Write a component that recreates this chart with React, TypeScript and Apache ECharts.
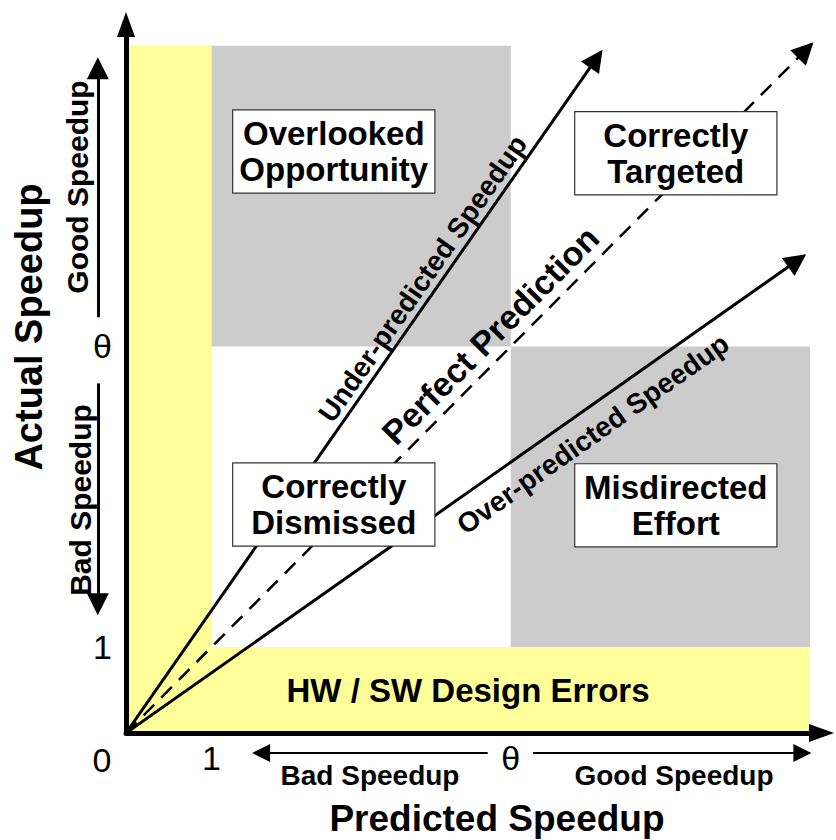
import React, { useEffect, useRef } from 'react';
import * as echarts from 'echarts';

const FONT = '"Liberation Sans", Arial, Helvetica, sans-serif';

// thresholds and axis extents (data units)
const THETA = 4.5;
const X_MAX = 8.134;
const Y_MAX = 8.248;
const xTickValues = [1, THETA];
const yTickValues = [1, THETA];

// shaded regions: [x0, y0] - [x1, y1]
const regionX0 = [0, 1, 1, THETA];
const regionX1 = [1, 8, THETA, 8];
const regionY0 = [0, 0, THETA, 1];
const regionY1 = [8, 1, 8, THETA];
const regionColor = ['#FFFF99', '#FFFF99', '#CCCCCC', '#CCCCCC'];

// diagonal prediction lines from origin
const diagNames = ['Under-predicted Speedup', 'Perfect Prediction', 'Over-predicted Speedup'];
const diagEndX = [5.5, 7.95, 7.85];
const diagEndY = [7.85, 7.95, 5.5];
const diagDashed = [false, true, false];
const diagLabelX = [3.47, 4.26, 5.46];
const diagLabelY = [5.29, 4.63, 3.48];
const diagLabelSize = [28, 34, 28];

// quadrant boxes
const quadrantNames = ['Overlooked\nOpportunity', 'Correctly\nTargeted', 'Correctly\nDismissed', 'Misdirected\nEffort'];
const quadrantX = [2.43, 6.43, 2.43, 6.43];
const quadrantY = [6.77, 6.75, 2.66, 2.65];
const errorsName = 'HW / SW Design Errors';
const errorsX = 4.0;
const errorsY = 0.5;

// guide arrows beside axes
const yGuideStart = [[-0.33, 4.84], [-0.33, 4.07]];
const yGuideEnd = [[-0.33, 7.74], [-0.33, 1.5]];
const xGuideStart = [[4.23, -0.233], [4.76, -0.233]];
const xGuideEnd = [[1.58, -0.233], [7.91, -0.233]];

const tickLabel = (v: number) => (v === THETA ? 'θ' : String(v));

export default function App() {
  const ref = useRef<HTMLDivElement>(null);
  useEffect(() => {
    document.body.style.margin = '0';
    const chart = echarts.init(ref.current!, null, { renderer: 'svg' });
    const axisCommon = {
      type: 'value',
      min: 0,
      z: 10,
      axisTick: { show: false },
      splitLine: { show: false },
      axisLine: {
        show: true,
        symbol: ['none', 'triangle'],
        symbolSize: [18, 25],
        lineStyle: { color: '#000', width: 5 },
      },
    };
    const textBase = { fontFamily: FONT, fill: '#000', align: 'center', verticalAlign: 'middle' };
    chart.setOption({
      animation: false,
      grid: { left: 126, top: 24.5, width: 695.5, height: 708.5, containLabel: false },
      xAxis: {
        ...axisCommon,
        max: X_MAX,
        axisLabel: {
          customValues: xTickValues,
          formatter: tickLabel,
          fontSize: 34,
          color: '#000',
          fontFamily: FONT,
          margin: 8,
        },
      },
      yAxis: {
        ...axisCommon,
        max: Y_MAX,
        axisLabel: {
          customValues: yTickValues,
          formatter: tickLabel,
          fontSize: 34,
          color: '#000',
          fontFamily: FONT,
          margin: 14,
        },
      },
      series: [
        {
          type: 'custom',
          name: 'regions',
          z: 1,
          silent: true,
          encode: { x: [0, 2], y: [1, 3] },
          data: regionX0.map((x, i) => [x, regionY0[i], regionX1[i], regionY1[i]]),
          renderItem: (params: any, api: any) => {
            const p0 = api.coord([api.value(0), api.value(1)]);
            const p1 = api.coord([api.value(2), api.value(3)]);
            return {
              type: 'rect',
              shape: { x: p0[0], y: p1[1], width: p1[0] - p0[0], height: p0[1] - p1[1] },
              style: { fill: regionColor[params.dataIndex] },
            };
          },
        },
        {
          type: 'lines',
          name: 'predictions',
          coordinateSystem: 'cartesian2d',
          z: 3,
          silent: true,
          symbol: ['none', 'triangle'],
          symbolSize: [16, 22],
          data: diagNames.map((n, i) => ({
            name: n,
            coords: [[0, 0], [diagEndX[i], diagEndY[i]]],
            lineStyle: {
              color: '#000',
              width: diagDashed[i] ? 2.5 : 3,
              type: diagDashed[i] ? [15, 10] : 'solid',
              opacity: 1,
            },
          })),
        },
        {
          type: 'lines',
          name: 'yGuides',
          coordinateSystem: 'cartesian2d',
          clip: false,
          z: 3,
          silent: true,
          symbol: ['none', 'triangle'],
          symbolSize: [14, 22],
          lineStyle: { color: '#000', width: 3, opacity: 1 },
          data: yGuideStart.map((s, i) => ({ coords: [s, yGuideEnd[i]] })),
        },
        {
          type: 'lines',
          name: 'xGuides',
          coordinateSystem: 'cartesian2d',
          clip: false,
          z: 3,
          silent: true,
          symbol: ['none', 'triangle'],
          symbolSize: [11, 18],
          lineStyle: { color: '#000', width: 2, opacity: 1 },
          data: xGuideStart.map((s, i) => ({ coords: [s, xGuideEnd[i]] })),
        },
        {
          type: 'scatter',
          name: 'labels',
          z: 5,
          silent: true,
          clip: false,
          symbolSize: 0.1,
          itemStyle: { color: 'rgba(0,0,0,0)', opacity: 1 },
          data: [
            ...diagNames.map((n, i) => ({
              value: [diagLabelX[i], diagLabelY[i]],
              label: {
                show: true,
                position: 'inside',
                formatter: n,
                rotate: (Math.atan2(diagEndY[i] * 85.9, diagEndX[i] * 85.5) * 180) / Math.PI,
                fontSize: diagLabelSize[i],
                fontWeight: 'bold',
                fontFamily: FONT,
                color: '#000',
                opacity: 1,
                align: 'center',
                verticalAlign: 'middle',
              },
            })),
            ...quadrantNames.map((n, i) => ({
              value: [quadrantX[i], quadrantY[i]],
              label: {
                show: true,
                position: 'inside',
                formatter: n,
                fontSize: 33,
                lineHeight: 36,
                fontWeight: 'bold',
                fontFamily: FONT,
                color: '#000',
                opacity: 1,
                backgroundColor: '#fff',
                borderColor: '#333',
                borderWidth: 1.2,
                padding: [5, 0],
                width: 201,
                align: 'center',
                verticalAlign: 'middle',
              },
            })),
            {
              value: [errorsX, errorsY],
              label: {
                show: true,
                position: 'inside',
                formatter: errorsName,
                fontSize: 33,
                fontWeight: 'bold',
                fontFamily: FONT,
                color: '#000',
                opacity: 1,
                align: 'center',
                verticalAlign: 'middle',
              },
            },
          ],
        },
      ],
      graphic: [
        { type: 'text', x: 102, y: 760, style: { ...textBase, text: '0', fontSize: 34 } },
        { type: 'text', x: 497, y: 818, style: { ...textBase, text: 'Predicted Speedup', fontSize: 37, fontWeight: 'bold' } },
        { type: 'text', x: 29, y: 327, rotation: Math.PI / 2, style: { ...textBase, text: 'Actual Speedup', fontSize: 38, fontWeight: 'bold' } },
        { type: 'text', x: 77, y: 187, rotation: Math.PI / 2, style: { ...textBase, text: 'Good Speedup', fontSize: 30, fontWeight: 'bold' } },
        { type: 'text', x: 80, y: 500, rotation: Math.PI / 2, style: { ...textBase, text: 'Bad Speedup', fontSize: 30, fontWeight: 'bold' } },
        { type: 'text', x: 370, y: 775, style: { ...textBase, text: 'Bad Speedup', fontSize: 28, fontWeight: 'bold' } },
        { type: 'text', x: 674, y: 775, style: { ...textBase, text: 'Good Speedup', fontSize: 28, fontWeight: 'bold' } },
      ],
    });
    return () => chart.dispose();
  }, []);
  return <div ref={ref} style={{ width: 836, height: 840 }} />;
}
